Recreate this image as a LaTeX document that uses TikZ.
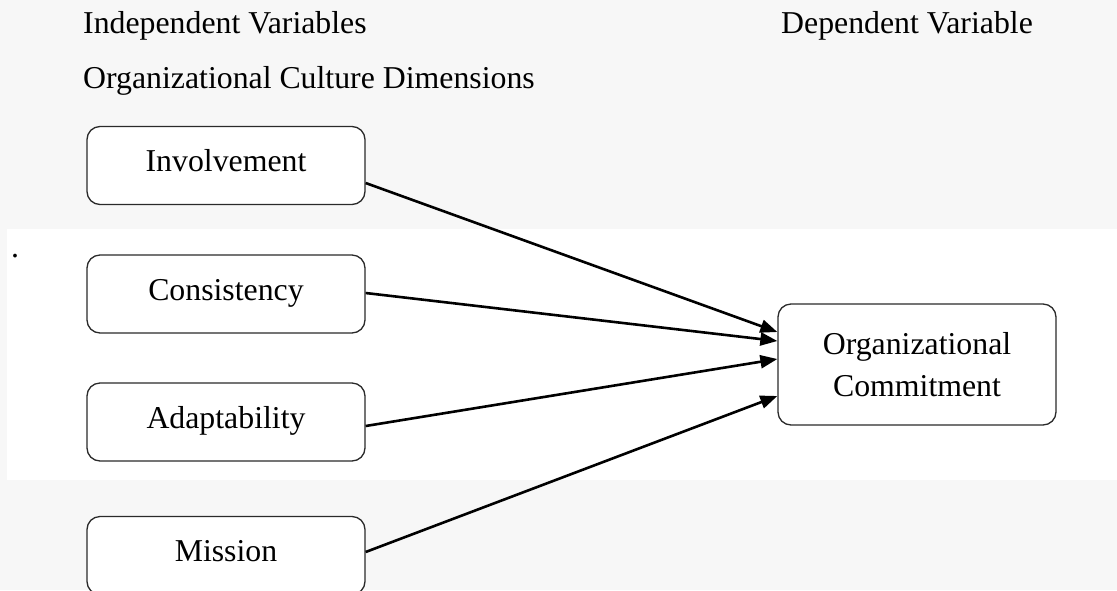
\documentclass[tikz,border=0pt]{standalone}
\usepackage{fontspec}
\setmainfont{Liberation Serif}
\usetikzlibrary{calc,arrows.meta}
\definecolor{bggray}{HTML}{F7F7F7}
\definecolor{boxline}{HTML}{2A2A2A}
\tikzset{
  txt/.style={inner sep=0pt, font=\fontsize{31.8}{42}\selectfont},
  varbox/.style={draw=boxline, line width=1.3pt, fill=white, rounded corners=13pt,
    minimum width=278pt, minimum height=78pt, inner sep=0pt,
    font=\fontsize{31.8}{42}\selectfont},
  onebox/.style={varbox, text height=22pt, text depth=10pt},
  link/.style={line width=2.6pt, -{Triangle[length=17pt,width=13pt]}}
}
\begin{document}
\begin{tikzpicture}[x=1pt,y=-1pt]
\useasboundingbox (0,0) rectangle (1117,590);
\fill[bggray] (0,0) rectangle (1117,590);
\fill[white] (7,229) rectangle (1117,480);
\node[txt, anchor=base west] (iv) at (83,33) {Independent Variables};
\node[txt, anchor=base west] (dv) at (781,33) {Dependent Variable};
\node[txt, anchor=base west] (ocd) at (83,88) {Organizational Culture Dimensions};
\node[txt] (dot) at (15,256) {.};
\node[onebox] (inv) at (226,165.5) {Involvement};
\node[onebox] (con) at (226,294) {Consistency};
\node[onebox] (ada) at (226,422) {Adaptability};
\node[onebox] (mis) at (226,555.5) {Mission};
\node[varbox, minimum height=121pt, align=center] (org) at (917,364.5) {Organizational\\Commitment};
\draw[link] ($(inv.east)+(0,17.5)$) -- ($(org.west)+(0,-32.5)$);
\draw[link] ($(con.east)+(0,-1)$) -- ($(org.west)+(0,-23.5)$);
\draw[link] ($(ada.east)+(0,4)$) -- ($(org.west)+(0,-5.5)$);
\draw[link] ($(mis.east)+(0,-3.5)$) -- ($(org.west)+(0,31.5)$);
\end{tikzpicture}
\end{document}
